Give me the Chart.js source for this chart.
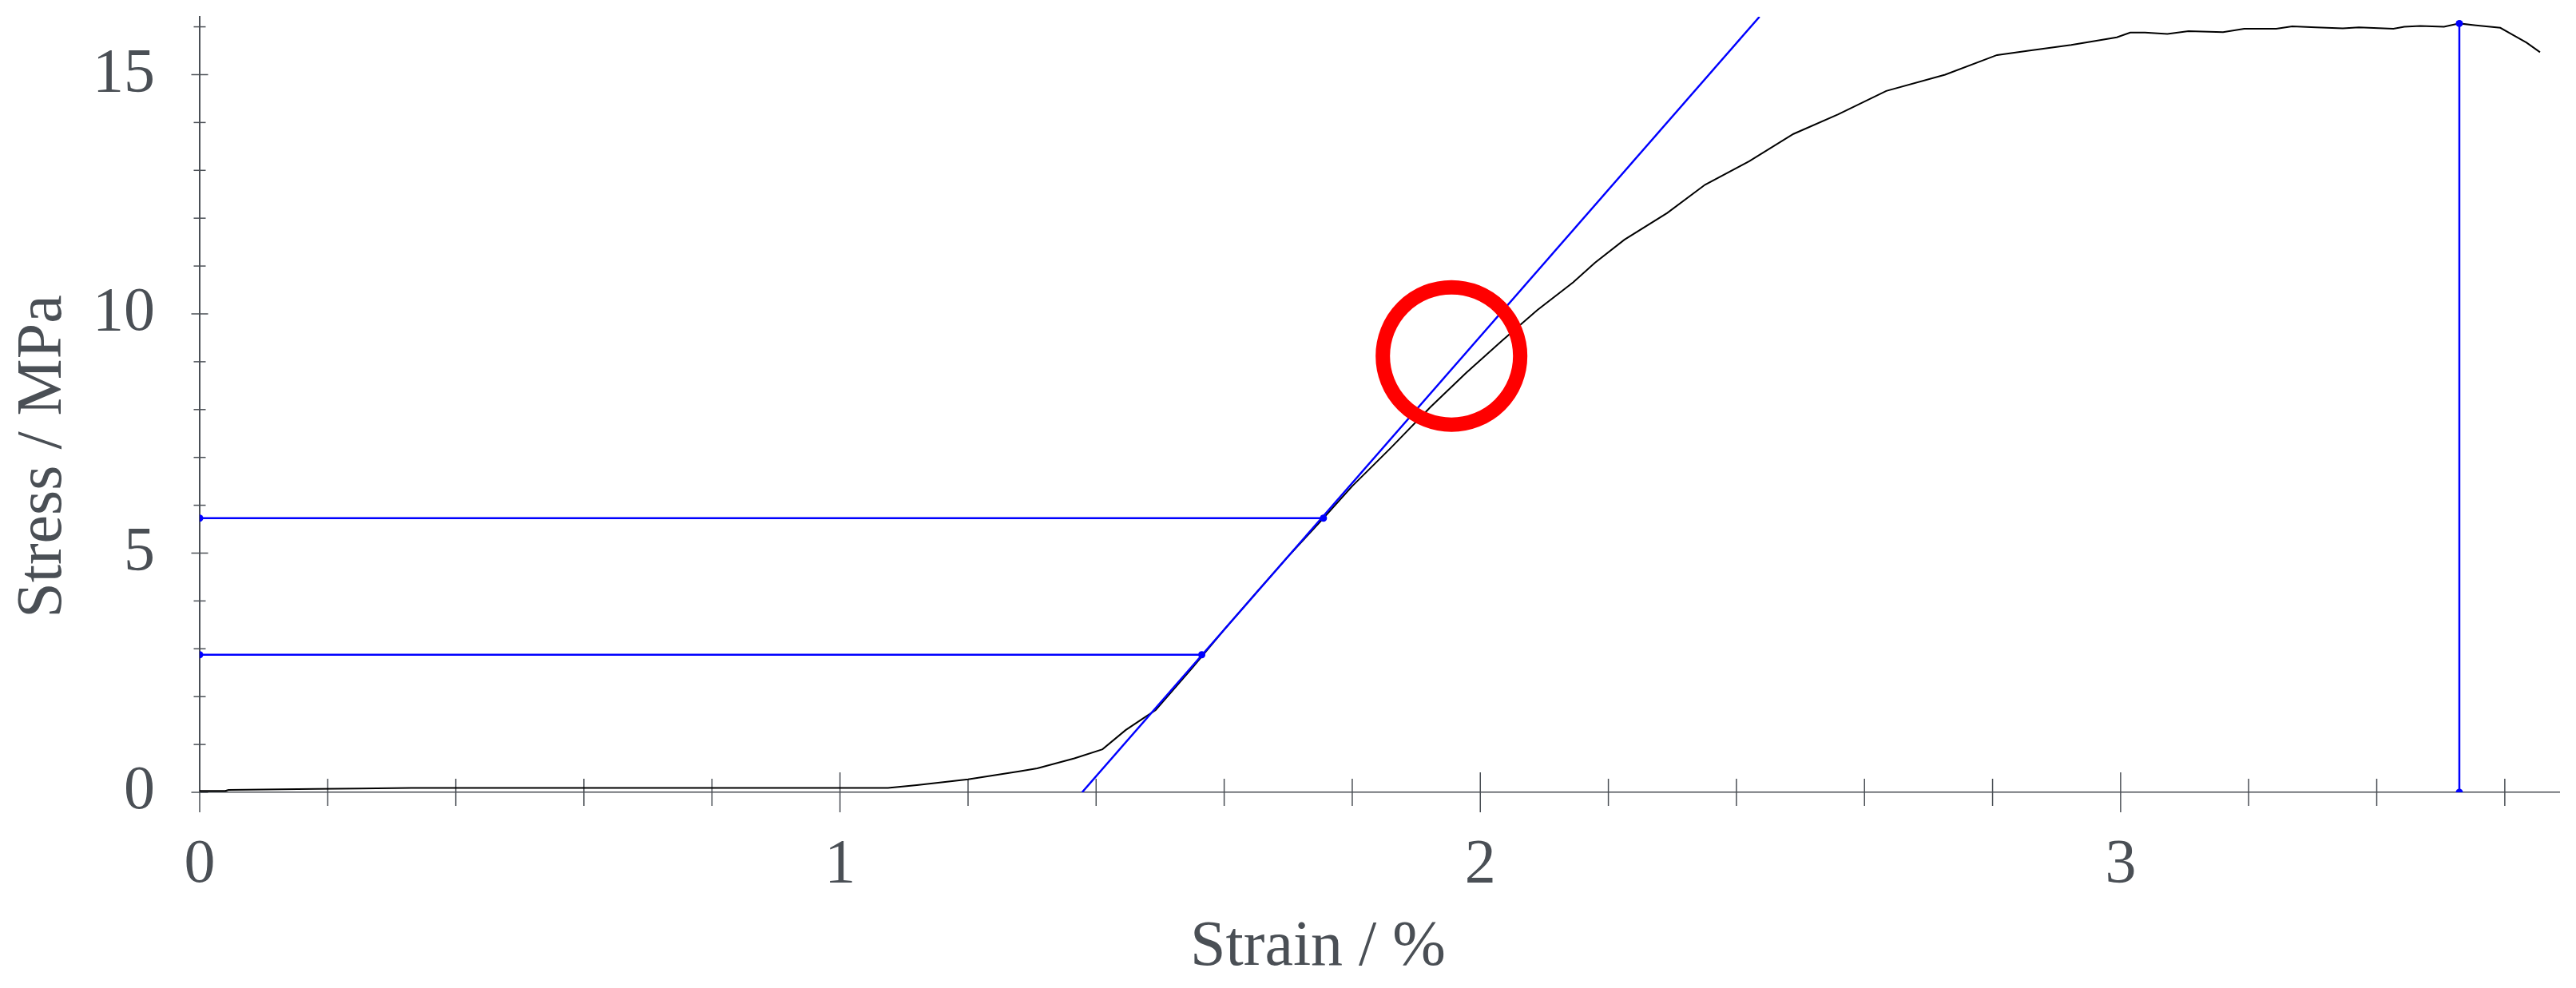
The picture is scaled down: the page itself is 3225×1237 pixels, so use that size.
<!DOCTYPE html>
<html>
<head>
<meta charset="utf-8">
<script src="https://cdn.jsdelivr.net/npm/chart.js@4.4.1/dist/chart.umd.min.js"></script>
<style>
  html, body { margin: 0; padding: 0; background: #fff; }
  #wrap { width: 3225px; height: 1237px; }
</style>
</head>
<body>
<div id="wrap"><canvas id="stressChart"></canvas></div>
<script>
// measured stress-strain curve
const strain = [0, 0.04, 0.045, 0.18, 0.25, 0.33, 0.60, 0.90, 1.075, 1.12,
  1.20, 1.28, 1.308, 1.366, 1.41, 1.446, 1.474, 1.493, 1.55, 1.60,
  1.65, 1.70, 1.755, 1.80, 1.861, 1.922, 1.978, 2.034, 2.089, 2.145,
  2.179, 2.225, 2.292, 2.351, 2.420, 2.489, 2.559, 2.634, 2.726, 2.807,
  2.856, 2.923, 2.994, 3.015, 3.038, 3.073, 3.106, 3.160, 3.193, 3.243,
  3.268, 3.305, 3.347, 3.372, 3.426, 3.443, 3.468, 3.505, 3.529, 3.555,
  3.593, 3.613, 3.634, 3.655];
const stress = [0.03, 0.03, 0.05, 0.07, 0.08, 0.09, 0.09, 0.09, 0.09, 0.15,
  0.27, 0.44, 0.50, 0.71, 0.90, 1.30, 1.55, 1.72, 2.60, 3.40,
  4.17, 4.93, 5.73, 6.40, 7.21, 8.05, 8.77, 9.44, 10.08, 10.66,
  11.07, 11.55, 12.11, 12.70, 13.19, 13.76, 14.17, 14.66, 15.00, 15.41,
  15.50, 15.62, 15.78, 15.88, 15.88, 15.85, 15.91, 15.89, 15.96, 15.96,
  16.01, 15.99, 15.97, 15.99, 15.96, 16.00, 16.02, 16.00, 16.07, 16.03,
  15.98, 15.83, 15.67, 15.47];

// modulus tangent and the two evaluation levels
const tangentStrain = [1.378, 2.436];
const tangentStress = [0, 16.21];
const upperStrain = [0, 1.755];
const upperStress = [5.73, 5.73];
const lowerStrain = [0, 1.565];
const lowerStress = [2.876, 2.876];
const maxStrain = [3.529, 3.529];
const maxStress = [0, 16.07];
const markStrain = [1.955];
const markStress = [9.12];

// axes
const xMin = 0, xMax = 3.685;
const yMin = 0, yMax = 16.21;
const xLabelTicks = [0, 1, 2, 3];
const xMinorTicks = [0.2, 0.4, 0.6, 0.8, 1.2, 1.4, 1.6, 1.8, 2.2, 2.4, 2.6, 2.8, 3.2, 3.4, 3.6];
const yLabelTicks = [0, 5, 10, 15];
const yMinorTicks = [1, 2, 3, 4, 6, 7, 8, 9, 11, 12, 13, 14, 16];
const xTitle = 'Strain / %';
const yTitle = 'Stress / MPa';

const axisColor = '#4a4f55';
const blue = '#0000ff';
const fontFamily = "'Liberation Serif', 'Times New Roman', serif";

const toPoints = (xs, ys) => xs.map((v, i) => ({ x: v, y: ys[i] }));

const blueLine = (xs, ys, withPoints) => ({
  data: toPoints(xs, ys),
  showLine: true,
  borderColor: blue,
  borderWidth: 2.5,
  pointRadius: withPoints ? 4.5 : 0,
  pointBackgroundColor: blue,
  pointBorderColor: blue,
  pointBorderWidth: 0,
  order: 2
});

// tick marks crossing the axes
const tickMarks = {
  id: 'tickMarks',
  beforeDatasetsDraw(chart) {
    const { ctx, chartArea, scales: { x, y } } = chart;
    ctx.save();
    ctx.strokeStyle = axisColor;
    ctx.lineWidth = 1.5;
    const vLine = (v, len) => {
      const px = x.getPixelForValue(v);
      ctx.beginPath();
      ctx.moveTo(px, chartArea.bottom - len);
      ctx.lineTo(px, chartArea.bottom + len);
      ctx.stroke();
    };
    const hLine = (v, len) => {
      const py = y.getPixelForValue(v);
      ctx.beginPath();
      ctx.moveTo(chartArea.left - len, py);
      ctx.lineTo(chartArea.left + len, py);
      ctx.stroke();
    };
    xLabelTicks.forEach(v => vLine(v, 25));
    xMinorTicks.forEach(v => vLine(v, 17));
    yLabelTicks.forEach(v => hLine(v, 10.5));
    yMinorTicks.forEach(v => hLine(v, 7.5));
    ctx.restore();
  }
};

// axis titles
const axisTitles = {
  id: 'axisTitles',
  afterDraw(chart) {
    const { ctx, chartArea } = chart;
    ctx.save();
    ctx.fillStyle = axisColor;
    ctx.font = '80px ' + fontFamily;
    ctx.textAlign = 'center';
    ctx.textBaseline = 'alphabetic';
    const cx = (chartArea.left + chartArea.right) / 2 - 77;
    ctx.fillText(xTitle, cx, chart.height - 29);
    const cy = (chartArea.top + chartArea.bottom) / 2 + 65;
    ctx.translate(76, cy);
    ctx.rotate(-Math.PI / 2);
    ctx.fillText(yTitle, 0, 0);
    ctx.restore();
  }
};

new Chart(document.getElementById('stressChart').getContext('2d'), {
  type: 'scatter',
  data: {
    datasets: [
      {
        data: toPoints(markStrain, markStress),
        showLine: false,
        pointRadius: 86,
        pointBorderWidth: 18,
        pointBorderColor: '#ff0000',
        pointBackgroundColor: 'rgba(0,0,0,0)',
        order: 1
      },
      blueLine(tangentStrain, tangentStress, false),
      blueLine(upperStrain, upperStress, true),
      blueLine(lowerStrain, lowerStress, true),
      blueLine(maxStrain, maxStress, true),
      {
        data: toPoints(strain, stress),
        showLine: true,
        borderColor: '#000000',
        borderWidth: 2,
        pointRadius: 0,
        tension: 0,
        order: 3
      }
    ]
  },
  options: {
    responsive: true,
    maintainAspectRatio: false,
    animation: false,
    events: [],
    layout: { autoPadding: false, padding: { top: 21, right: 21, left: 0, bottom: 0 } },
    plugins: {
      legend: { display: false },
      tooltip: { enabled: false }
    },
    scales: {
      x: {
        type: 'linear',
        min: xMin,
        max: xMax,
        afterBuildTicks: s => { s.ticks = xLabelTicks.map(v => ({ value: v })); },
        afterFit: s => { s.height = 245; s.paddingLeft = 0; s.paddingRight = 0; },
        grid: { display: false },
        border: { display: true, color: axisColor, width: 1.5 },
        ticks: {
          autoSkip: false,
          maxRotation: 0,
          padding: 37,
          color: axisColor,
          font: { family: fontFamily, size: 78 }
        }
      },
      y: {
        type: 'linear',
        min: yMin,
        max: yMax,
        afterBuildTicks: s => { s.ticks = yLabelTicks.map(v => ({ value: v })); },
        afterFit: s => { s.width = 250; s.paddingTop = 0; s.paddingBottom = 0; },
        grid: { display: false },
        border: { display: true, color: axisColor, width: 2 },
        ticks: {
          autoSkip: false,
          padding: 48,
          color: axisColor,
          font: { family: fontFamily, size: 78 }
        }
      }
    }
  },
  plugins: [tickMarks, axisTitles]
});
</script>
</body>
</html>
